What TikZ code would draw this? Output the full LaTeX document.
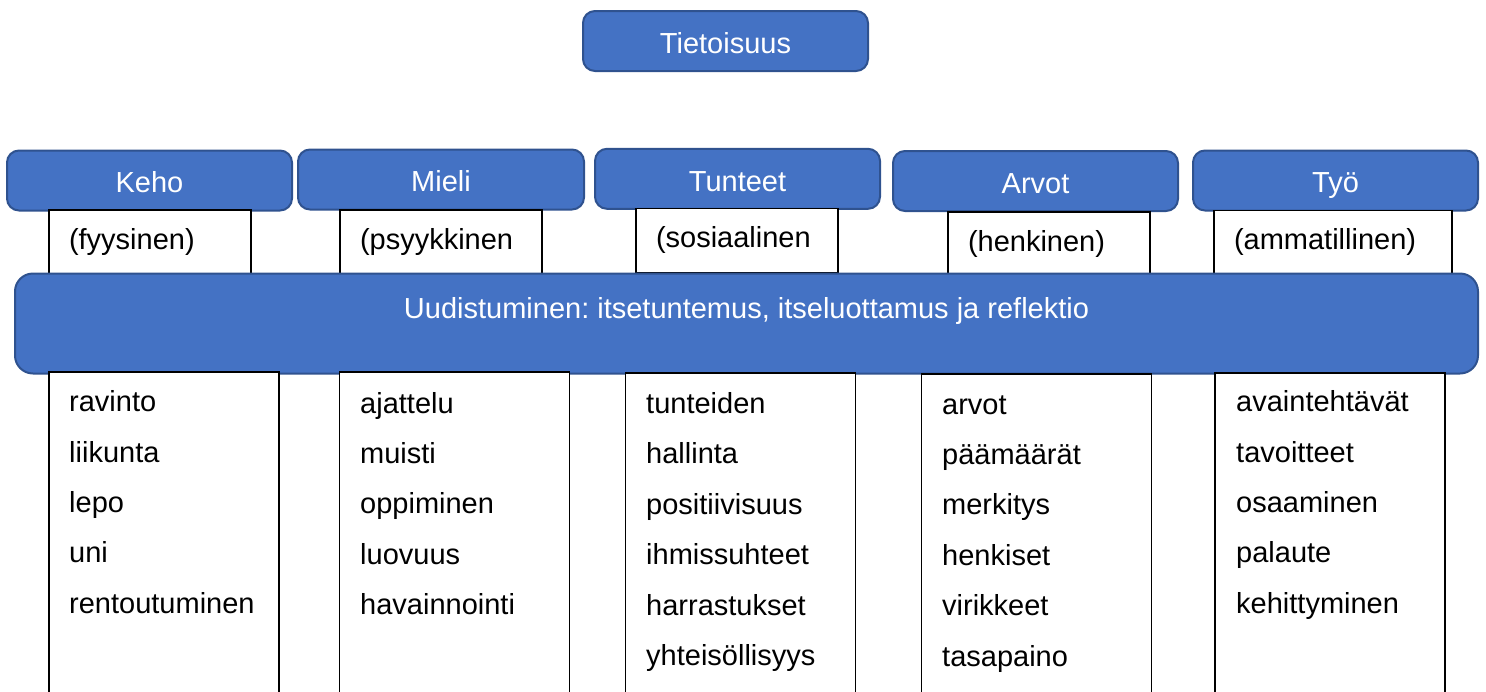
\documentclass[tikz,border=0pt]{standalone}
\usepackage{fontspec}
\setmainfont{Liberation Sans}
\frenchspacing
\definecolor{boxblue}{HTML}{4472C4}
\definecolor{boxedge}{HTML}{2F528F}
\tikzset{
  every node/.style={font=\fontsize{29pt}{34pt}\selectfont},
  hdr/.style={rectangle, rounded corners=12pt, fill=boxblue, draw=boxedge,
    line width=2pt, text=white, minimum width=285pt, minimum height=60pt,
    text height=30pt, text depth=5.6pt, inner sep=0pt},
  renewbar/.style={rectangle, rounded corners=18pt, fill=boxblue, draw=boxedge,
    line width=2pt, text=white, minimum width=1463pt, minimum height=100pt,
    text height=21pt, text depth=32pt, inner sep=0pt},
  subbox/.style={rectangle, draw=black, fill=white, line width=1.2pt,
    minimum height=64pt, text height=22pt, text depth=7.4pt,
    inner ysep=0pt, inner xsep=20pt, align=left},
  listbox/.style={rectangle, draw=black, fill=white, line width=1.2pt,
    minimum width=230pt, minimum height=348pt, inner sep=0pt},
  item/.style={anchor=base west, inner sep=0pt, text=black}
}
\begin{document}
\begin{tikzpicture}[x=1pt, y=-1pt]
\useasboundingbox (0,0) rectangle (1486,691);
\clip (0,0) rectangle (1486,691);

% top concept
\node[hdr] (tiet) at (725.5,41) {Tietoisuus};

% five areas
\node[hdr] (keho)   at (149.5,180.5) {Keho};
\node[hdr, minimum width=286pt] (mieli) at (441,179.5) {Mieli};
\node[hdr] (tunteet) at (737.5,178.8) {Tunteet};
\node[hdr] (arvot)  at (1035.5,181) {Arvot};
\node[hdr] (tyo)    at (1335.5,180.5) {Työ};

% dimension captions
\node[subbox, text width=162pt] (fyys) at (150,242)   {(fyysinen)};
\node[subbox, text width=162pt] (psyk) at (441,242)   {(psyykkinen};
\node[subbox, text width=162pt] (sos)  at (737,240.5) {(sosiaalinen};
\node[subbox, text width=162pt] (henk) at (1049,244)  {(henkinen)};
\node[subbox, text width=198pt] (amm)  at (1333,242.5) {(ammatillinen)};

% renewal bar
\node[renewbar] (renew) at (746.5,323.5)
  {Uudistuminen: itsetuntemus, itseluottamus ja reflektio};

% content columns
\node[listbox] (kehoL)    at (164,546)    {};
\node[listbox] (mieliL)   at (454.5,546)  {};
\node[listbox] (tunteetL) at (740.5,547)  {};
\node[listbox] (arvotL)   at (1036.5,548) {};
\node[listbox] (tyoL)     at (1330,547)   {};

\foreach \t [count=\i] in {ravinto,liikunta,lepo,uni,rentoutuminen}
  \node[item] (keho-\i) at (69,{411.7+(\i-1)*50.4}) {\t};
\foreach \t [count=\i] in {ajattelu,muisti,oppiminen,luovuus,havainnointi}
  \node[item] (mieli-\i) at (360,{413+(\i-1)*50.4}) {\t};
\foreach \t [count=\i] in {tunteiden,hallinta,positiivisuus,ihmissuhteet,harrastukset,yhteisöllisyys}
  \node[item] (tunteet-\i) at (646,{413.5+(\i-1)*50.4}) {\t};
\foreach \t [count=\i] in {arvot,päämäärät,merkitys,henkiset,virikkeet,tasapaino}
  \node[item] (arvot-\i) at (942,{414+(\i-1)*50.4}) {\t};
\foreach \t [count=\i] in {avaintehtävät,tavoitteet,osaaminen,palaute,kehittyminen}
  \node[item] (tyo-\i) at (1236,{411.7+(\i-1)*50.4}) {\t};
\end{tikzpicture}
\end{document}
